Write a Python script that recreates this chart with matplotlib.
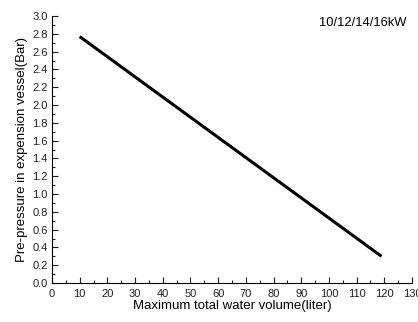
import matplotlib
matplotlib.use('Agg')
import matplotlib.pyplot as plt
from matplotlib.ticker import MultipleLocator

plt.rcParams['font.family'] = ['Liberation Sans', 'DejaVu Sans']

# line end points
volume = [10, 119]
pressure = [2.77, 0.3]
label = '10/12/14/16kW'

fig = plt.figure(figsize=(4.18, 3.22), dpi=100)
ax = fig.add_axes([0.1244, 0.121, 0.8612, 0.829])

ax.plot(volume, pressure, color='black', lw=2.2, solid_capstyle='butt')

ax.set_xlim(0, 130)
ax.set_ylim(0, 3.0)
ax.xaxis.set_major_locator(MultipleLocator(10))
ax.xaxis.set_minor_locator(MultipleLocator(5))
ax.yaxis.set_major_locator(MultipleLocator(0.2))
ax.yaxis.set_minor_locator(MultipleLocator(0.1))
ax.yaxis.set_major_formatter(lambda v, p: '%.1f' % v)

for s in ['top', 'right']:
    ax.spines[s].set_visible(False)
for s in ['left', 'bottom']:
    ax.spines[s].set_linewidth(0.8)

ax.tick_params(which='both', direction='in', width=0.8, labelsize=8, colors='#222222')
ax.tick_params(which='major', length=4)
ax.tick_params(which='minor', length=2)
ax.tick_params(axis='x', pad=4)
ax.tick_params(axis='y', pad=3)

ax.set_xlabel('Maximum total water volume(liter)', fontsize=9.5, labelpad=1)
ax.set_ylabel('Pre-pressure in expension vessel(Bar)', fontsize=9.5, labelpad=3)

ax.text(0.985, 0.995, label, transform=ax.transAxes, ha='right', va='top', fontsize=9.3)

fig.savefig('out.png', dpi=100)
